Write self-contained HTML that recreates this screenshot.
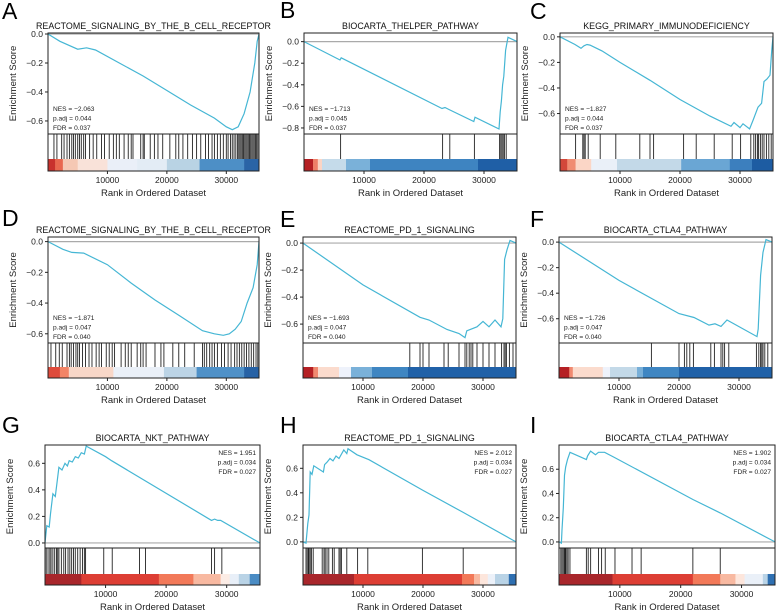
<!DOCTYPE html>
<html><head><meta charset="utf-8"><style>
body{margin:0;background:#fff;font-family:"Liberation Sans",Arial,sans-serif}
svg{display:block}
</style></head><body>
<svg id="fig" width="777" height="610" viewBox="0 0 777 610" xmlns="http://www.w3.org/2000/svg"></svg>
<script>
// ---- data ----
const titles=["REACTOME_SIGNALING_BY_THE_B_CELL_RECEPTOR","BIOCARTA_THELPER_PATHWAY","KEGG_PRIMARY_IMMUNODEFICIENCY","REACTOME_SIGNALING_BY_THE_B_CELL_RECEPTOR","REACTOME_PD_1_SIGNALING","BIOCARTA_CTLA4_PATHWAY","BIOCARTA_NKT_PATHWAY","REACTOME_PD_1_SIGNALING","BIOCARTA_CTLA4_PATHWAY"];
const letters=["A","B","C","D","E","F","G","H","I"];
const nesVals=["−2.063","−1.713","−1.827","−1.871","−1.693","−1.726","1.951","2.012","1.902"];
const padjVals=["0.044","0.045","0.044","0.047","0.047","0.047","0.034","0.034","0.034"];
const fdrVals=["0.037","0.037","0.037","0.040","0.040","0.040","0.027","0.027","0.027"];
const rankTicks=[10000,20000,30000];
const yDomains=[[-0.69,0.007],[-0.856,0.08],[-0.76,0.03],[-0.66,0.03],[-0.74,0.045],[-0.79,0.04],[-0.038,0.738],[-0.05,0.79],[-0.05,0.8]];
const yTicksNeg=[0,-0.2,-0.4,-0.6,-0.8];
const yTicksPos=[0,0.2,0.4,0.6];
const curveA=[[0,0],[2000,-0.05],[5000,-0.105],[6500,-0.095],[8000,-0.11],[12000,-0.2],[16000,-0.29],[20000,-0.39],[24000,-0.49],[28000,-0.58],[30000,-0.64],[31000,-0.66],[32000,-0.64],[33000,-0.55],[34000,-0.4],[34800,-0.2],[35200,-0.05],[35500,0]];
const curveB=[[0,0],[6000,-0.17],[6200,-0.15],[23000,-0.62],[23500,-0.61],[24200,-0.63],[28300,-0.74],[28500,-0.7],[32500,-0.81],[32700,-0.65],[32900,-0.55],[33100,-0.4],[33300,-0.32],[33600,-0.08],[34000,0.04],[35500,0]];
const curveC=[[0,0],[2500,-0.06],[3500,-0.09],[4000,-0.07],[4500,-0.06],[5000,-0.065],[7000,-0.11],[10000,-0.2],[15000,-0.34],[20000,-0.49],[25000,-0.62],[28500,-0.7],[29000,-0.67],[30000,-0.71],[30500,-0.68],[31600,-0.72],[32200,-0.65],[33000,-0.55],[33600,-0.52],[34000,-0.35],[34500,-0.33],[35000,-0.3],[35300,-0.1],[35500,0]];
const curveD=[[0,0],[2500,-0.05],[4000,-0.07],[6000,-0.075],[10000,-0.15],[14000,-0.27],[18000,-0.38],[22000,-0.48],[26000,-0.58],[28000,-0.6],[29500,-0.61],[30500,-0.6],[31500,-0.57],[32500,-0.52],[33500,-0.4],[34500,-0.3],[35200,-0.15],[35500,0]];
const curveE=[[0,0],[10000,-0.31],[19500,-0.55],[21000,-0.57],[24000,-0.64],[26000,-0.67],[27000,-0.7],[27300,-0.65],[29000,-0.62],[30000,-0.58],[31000,-0.62],[32000,-0.57],[33000,-0.62],[33300,-0.56],[33600,-0.12],[34000,-0.05],[34500,0.02],[35500,0]];
const curveF=[[0,0],[10000,-0.3],[20000,-0.56],[22500,-0.59],[25000,-0.65],[26000,-0.64],[27000,-0.66],[28000,-0.61],[33000,-0.74],[33200,-0.68],[33600,-0.26],[34000,-0.08],[34500,0.02],[35500,0]];
const curveG=[[0,0],[300,0.13],[700,0.12],[900,0.22],[1300,0.37],[1700,0.35],[2000,0.46],[2300,0.57],[2800,0.55],[3300,0.6],[3700,0.58],[4000,0.62],[4500,0.61],[5000,0.65],[5500,0.64],[6000,0.68],[6500,0.67],[6800,0.73],[10000,0.65],[11000,0.62],[27500,0.17],[28000,0.18],[28500,0.17],[29000,0.17],[35500,0]];
const curveH=[[0,0],[500,-0.01],[800,0.15],[1000,0.22],[1200,0.57],[1500,0.55],[1800,0.62],[3400,0.57],[3600,0.63],[4000,0.65],[4500,0.68],[5000,0.66],[5500,0.7],[6000,0.68],[6800,0.75],[7300,0.72],[7500,0.76],[9000,0.71],[11000,0.67],[20000,0.42],[26700,0.24],[35500,0]];
const curveI=[[0,0],[400,-0.01],[500,0.1],[700,0.28],[900,0.55],[1100,0.62],[1400,0.68],[1800,0.74],[4500,0.68],[4700,0.71],[5200,0.75],[6000,0.72],[6500,0.74],[7500,0.74],[9000,0.7],[22000,0.35],[26500,0.24],[35500,0]];
const hitsA=[1000,1500,2300,2700,3200,3600,4000,4300,4600,5000,5300,5600,6000,6300,7000,7600,8200,9000,9500,10300,11000,11500,12000,12800,13500,14000,14300,15600,16000,16200,17200,17900,18500,19300,20500,21500,22000,22700,23500,24300,25000,25700,26500,27000,27600,28000,28500,29000,29500,30000,30300,30700,31000,31300,31600,31900,32100,32300,32500,32700,32900,33100,33300,33500,33700,33900,34100,34300,34500,34700,34900,35100,35300];
const hitsB=[6100,23100,24300,28400,32600,32800,33000,33200,33400,33700];
const hitsC=[2600,3800,4000,4200,4700,6700,9300,13300,15000,15600,20600,22700,25700,28700,30100,31800,32300,32600,32900,33100,33400,33700,34000,34400,34800,35200];
const hitsD=[500,1300,1900,2400,3200,3600,3900,4300,4700,5000,5300,5800,6300,6900,7400,8100,8600,9000,9800,10300,10800,11200,12300,13000,13500,14000,15000,15600,16000,16500,18000,19000,19500,21000,22000,23000,24600,26000,26300,26700,27200,27600,28000,28500,29200,29700,30300,30800,31400,31800,32200,32600,33000,33400,33800,34200,34600,35000,35300];
const hitsE=[17800,19500,20000,21000,23500,24200,26000,27000,27300,27700,28000,28300,29000,30000,31000,32000,33100,33500,33700,33900,34400,35000];
const hitsF=[15400,20000,20900,21300,21800,22400,25300,25900,27000,27300,27600,28300,32900,33300,33600,33800,34000,34300,34800];
const hitsG=[200,500,800,1000,1300,1600,1900,2100,2300,2700,3100,3400,3800,4100,4400,4700,5000,5400,5800,6200,6500,6700,9700,11100,15600,16600,27500,28000,29200];
const hitsH=[500,700,900,1000,1200,1400,1700,3200,3500,3700,4000,4300,4900,5200,6000,6200,6400,7300,9100,10800,19900,26700];
const hitsI=[300,500,700,900,1000,1100,1300,1500,1800,4500,4800,5200,6500,7000,7600,9200,12000,13500,22000,26500];
const cbNeg1=[[0,1200,"#c8312d"],[1200,2500,"#e8674f"],[2500,5000,"#f5c8b4"],[5000,10000,"#f9e2d9"],[10000,15000,"#eaeff8"],[15000,20000,"#e3ecf5"],[20000,25500,"#b9d3e4"],[25500,33000,"#4d8fc6"],[33000,35500,"#2a64a6"]];
const cbNeg2=[[0,1500,"#b52024"],[1500,2300,"#ee7f68"],[2300,3000,"#fbd4c4"],[3000,7000,"#c5dbea"],[7000,11000,"#7ab1d9"],[11000,29000,"#3e84c1"],[29000,35500,"#1f5fa6"]];
const cbNeg3=[[0,1200,"#d3473a"],[1200,2600,"#f08c72"],[2600,5200,"#fbd6c6"],[5200,9500,"#eaf0f8"],[9500,20200,"#c3d9e8"],[20200,28300,"#6aa6d4"],[28300,32000,"#3c7fbe"],[32000,35500,"#1d5ca2"]];
const cbNeg4=[[0,2000,"#de4a3b"],[2000,3500,"#f28466"],[3500,11000,"#f8d7c8"],[11000,19500,"#eaf0f8"],[19500,25000,"#bcd4e6"],[25000,33000,"#4f91c8"],[33000,35500,"#2762a5"]];
const cbNeg5=[[0,1700,"#b52024"],[1700,2500,"#f08970"],[2500,6000,"#fbdbcd"],[6000,8000,"#eef2fb"],[8000,11500,"#7ab1d9"],[11500,17500,"#3f86c2"],[17500,35500,"#2061a8"]];
const cbNeg6=[[0,1700,"#b52024"],[1700,2300,"#f08970"],[2300,7300,"#fbdbcd"],[7300,8500,"#eef2fb"],[8500,13000,"#c3d9e8"],[13000,14000,"#78afd8"],[14000,20000,"#3f86c2"],[20000,35500,"#2061a8"]];
const cbPos1=[[0,6000,"#a8262b"],[6000,18800,"#dd3e34"],[18800,24500,"#f27959"],[24500,29000,"#f8b9a1"],[29000,30500,"#fcece5"],[30500,32000,"#e8eff8"],[32000,33800,"#b9d3e6"],[33800,35500,"#4a8cc4"]];
const cbPos2=[[0,8500,"#a8262b"],[8500,26500,"#dd3e34"],[26500,28500,"#f27959"],[28500,29500,"#f8b9a1"],[29500,30800,"#fde6dc"],[30800,32000,"#ecf1f9"],[32000,34300,"#b9d3e6"],[34300,35500,"#2e6fb1"]];
const cbPos3=[[0,8800,"#a8262b"],[8800,22000,"#dd3e34"],[22000,26500,"#f27959"],[26500,29000,"#f8b9a1"],[29000,30500,"#fde6dc"],[30500,33500,"#eaf0f8"],[33500,34300,"#b9d3e6"],[34300,35500,"#2e6fb1"]];

const curves=[curveA,curveB,curveC,curveD,curveE,curveF,curveG,curveH,curveI];
const hits=[hitsA,hitsB,hitsC,hitsD,hitsE,hitsF,hitsG,hitsH,hitsI];
const cbars=[cbNeg1,cbNeg2,cbNeg3,cbNeg4,cbNeg5,cbNeg6,cbPos1,cbPos2,cbPos3];
const RANK_MAX=35500;
// layout
const boxX=[[48,259],[304,517],[560,773],[48,259],[303,516],[559,772],[45,260],[303,516],[559,775]];
const rowY=[[33,134,159,171],[237,343,367,378],[445,548,574,585]];
const letterPos=[[2,19],[280,18],[530,19],[2,226],[280,227],[530,227],[2,433],[280,433],[530,433]];

const NS="http://www.w3.org/2000/svg";
const svg=document.getElementById('fig');
function mk(tag,attrs,parent){const e=document.createElementNS(NS,tag);for(const k in attrs)e.setAttribute(k,attrs[k]);(parent||svg).appendChild(e);return e;}
function txt(s,attrs,parent){const e=mk('text',attrs,parent);e.textContent=s;return e;}

for(let i=0;i<9;i++){
  const g=mk('g',{});
  
  
  const [x0,x1]=boxX[i]; const [top,bot,cbTop,cbBot]=rowY[Math.floor(i/3)];
  const cbT=cbTop;
  const [ymin,ymax]=yDomains[i];
  const sx=r=>x0+(r/RANK_MAX)*(x1-x0);
  const sy=v=>bot-(v-ymin)/(ymax-ymin)*(bot-top);
  const pos=i>=6;
  const L=txt(letters[i],{x:letterPos[i][0],y:letterPos[i][1],'font-size':23,fill:'#000'},g);
  
  
  const T=txt(titles[i],{x:(x0+x1)/2,y:top-4,'font-size':8.9,'text-anchor':'middle',fill:'#111'},g);
  
  
  const z=mk('line',{x1:x0,x2:x1,y1:sy(0),y2:sy(0),stroke:'#aaa','stroke-width':1.2},g);
  
  
  cbars[i].forEach(s=>{
    const r=mk('rect',{x:sx(s[0]),y:cbT,width:Math.max(0,sx(s[1])-sx(s[0])+0.3),height:cbBot-cbT,fill:s[2]},g);
    
    
  });
  hits[i].forEach(h=>{
    const l=mk('line',{x1:sx(h),x2:sx(h),y1:bot,y2:cbT,stroke:'#222','stroke-width':0.9},g);
    
    
  });
  const d=curves[i].map((p,k)=>(k?'L':'M')+sx(p[0]).toFixed(1)+','+sy(p[1]).toFixed(1)).join('');
  const c=mk('path',{d:d,fill:'none',stroke:'#45b6d4','stroke-width':1.2},g);
  
  
  const b1=mk('rect',{x:x0,y:top,width:x1-x0,height:bot-top,fill:'none',stroke:'#222','stroke-width':1},g);
  
  
  const b2=mk('rect',{x:x0,y:bot,width:x1-x0,height:cbBot-bot,fill:'none',stroke:'#222','stroke-width':1},g);
  
  
  (pos?yTicksPos:yTicksNeg).forEach(v=>{
    if(v<ymin||v>ymax+0.001)return;
    const y=sy(v);
    mk('line',{x1:x0-3,x2:x0,y1:y,y2:y,stroke:'#222'},g);
    const t=txt(v.toFixed(1).replace('-','−'),{x:x0-5,y:y+3,'font-size':8.5,'text-anchor':'end',fill:'#222'},g);
    
    
  });
  const yt=txt('Enrichment Score',{x:0,y:0,'font-size':9.5,'text-anchor':'middle',fill:'#222',transform:`translate(${x0-32},${(top+bot)/2}) rotate(-90)`},g);
  
  
  rankTicks.forEach(r=>{
    const x=sx(r);
    mk('line',{x1:x,x2:x,y1:cbBot,y2:cbBot+3,stroke:'#222'},g);
    const t=txt(String(r),{x:x,y:cbBot+12,'font-size':8.5,'text-anchor':'middle',fill:'#222'},g);
    
    
  });
  const xt=txt('Rank in Ordered Dataset',{x:(x0+x1)/2,y:cbBot+25,'font-size':9.5,'text-anchor':'middle',fill:'#222'},g);
  
  
  const lines=['NES = '+nesVals[i],'p.adj = '+padjVals[i],'FDR = '+fdrVals[i]];
  lines.forEach((s,k)=>{
    const t=pos?txt(s,{x:x1-4,y:top+10+k*9.5,'font-size':6.6,'text-anchor':'end',fill:'#222'},g)
               :txt(s,{x:x0+5,y:bot-23+k*9.5,'font-size':6.6,fill:'#222'},g);
    
    
  });
}
</script>
</body></html>
